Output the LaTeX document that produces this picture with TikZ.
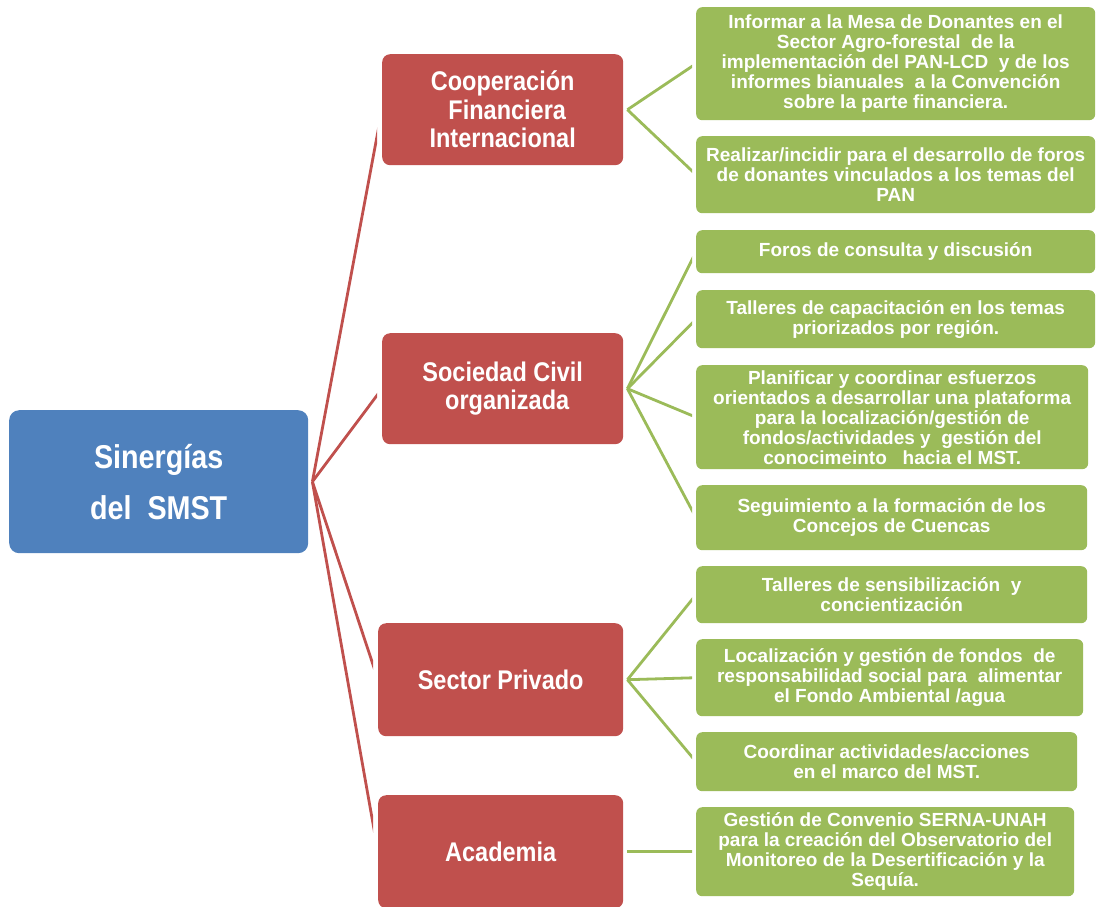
\documentclass[tikz,border=0pt]{standalone}
\usepackage{fontspec}
\setmainfont{Liberation Sans}
\newfontfamily\narrowfont[FakeStretch=0.87]{Liberation Sans}
\definecolor{hubblue}{HTML}{4F81BD}
\definecolor{catred}{HTML}{C0504D}
\definecolor{itemgreen}{HTML}{9BBB59}
\begin{document}
\begin{tikzpicture}[x=1pt,y=-1pt,
  hubbox/.style={fill=hubblue, rounded corners=10pt, text=white, align=center, inner sep=0pt,
    anchor=north west, font=\narrowfont\bfseries\fontsize{33}{51}\selectfont},
  catbox/.style={fill=catred, rounded corners=8pt, text=white, align=center, inner sep=0pt,
    anchor=north west, font=\narrowfont\bfseries\fontsize{27}{28.5}\selectfont},
  itembox/.style={fill=itemgreen, rounded corners=6pt, text=white, align=center, inner sep=0pt,
    anchor=north west, font=\bfseries\fontsize{19}{20}\selectfont},
  redline/.style={draw=catred, line width=2.8pt},
  greenline/.style={draw=itemgreen, line width=2.8pt}]
\useasboundingbox (0,0) rectangle (1096,906);

% hub
\node[hubbox, minimum width=299pt, minimum height=143pt] (smst) at (9,410) {Sinergías\\del\ \ SMST};

% categories
\node[catbox, minimum width=241pt, minimum height=111pt] (coop) at (382,54) {Cooperación\\\hspace*{9pt}Financiera\\Internacional};
\node[catbox, minimum width=241pt, minimum height=111pt] (soc) at (382,333) {Sociedad Civil\\\hspace*{9pt}organizada};
\node[catbox, minimum width=245pt, minimum height=113pt] (priv) at (378,623) {Sector Privado};
\node[catbox, minimum width=245pt, minimum height=113pt] (acad) at (378,795) {Academia};

% items
\node[itembox, minimum width=399pt, minimum height=113pt] (g1) at (696,7) {Informar a la Mesa de Donantes en el\\Sector Agro-forestal\ \ de la\\implementación del PAN-LCD\ \ y de los\\informes bianuales\ \ a la Convención\\sobre la parte financiera.};
\node[itembox, minimum width=399pt, minimum height=77pt] (g2) at (696,136) {Realizar/incidir para el desarrollo de foros\\de donantes vinculados a los temas del\\PAN};
\node[itembox, minimum width=399pt, minimum height=43pt] (g3) at (696,230) {Foros de consulta y discusión};
\node[itembox, minimum width=399pt, minimum height=58pt] (g4) at (696,290) {Talleres de capacitación en los temas\\priorizados por región.};
\node[itembox, minimum width=392pt, minimum height=104pt] (g5) at (696,365) {Planificar y coordinar esfuerzos\\orientados a desarrollar una plataforma\\para la localización/gestión de\\fondos/actividades y\ \ gestión del\\conocimeinto\ \ \ hacia el MST.};
\node[itembox, minimum width=391pt, minimum height=65pt] (g6) at (696,485) {Seguimiento a la formación de los\\Concejos de Cuencas};
\node[itembox, minimum width=391pt, minimum height=57pt] (g7) at (696,566) {Talleres de sensibilización\ \ y\\concientización};
\node[itembox, minimum width=387pt, minimum height=77pt] (g8) at (696,639) {Localización y gestión de fondos\ \ de\\responsabilidad social para\ \ alimentar\\el Fondo Ambiental /agua};
\node[itembox, minimum width=381pt, minimum height=59pt] (g9) at (696,732) {Coordinar actividades/acciones\\en el marco del MST.};
\node[itembox, minimum width=378pt, minimum height=89pt] (g10) at (696,807) {Gestión de Convenio SERNA-UNAH\\para la creación del Observatorio del\\Monitoreo de la Desertificación y la\\Sequía.};

% hub connectors
\coordinate (hub) at ([xshift=4pt]smst.east);
\begin{scope}
  \clip (0,0) rectangle (377,906);
  \draw[redline] (hub) -- (coop.west);
  \draw[redline] (hub) -- (soc.west);
\end{scope}
\begin{scope}
  \clip (0,0) rectangle (373,906);
  \draw[redline] (hub) -- (priv.west);
  \draw[redline] (hub) -- (acad.west);
\end{scope}

% category connectors
\coordinate (cj) at ([xshift=4pt]coop.east);
\coordinate (sj) at ([xshift=4pt]soc.east);
\coordinate (pj) at ([xshift=4pt]priv.east);
\coordinate (aj) at ([xshift=4pt]acad.east);
\begin{scope}
  \clip (0,0) rectangle (692,906);
  \draw[greenline] (cj) -- (g1.west);
  \draw[greenline] (cj) -- (g2.west);
  \draw[greenline] (sj) -- (g3.west);
  \draw[greenline] (sj) -- (g4.west);
  \draw[greenline] (sj) -- (g5.west);
  \draw[greenline] (sj) -- (g6.west);
  \draw[greenline] (pj) -- (g7.west);
  \draw[greenline] (pj) -- (g8.west);
  \draw[greenline] (pj) -- (g9.west);
  \draw[greenline] (aj) -- (g10.west);
\end{scope}
\end{tikzpicture}
\end{document}
